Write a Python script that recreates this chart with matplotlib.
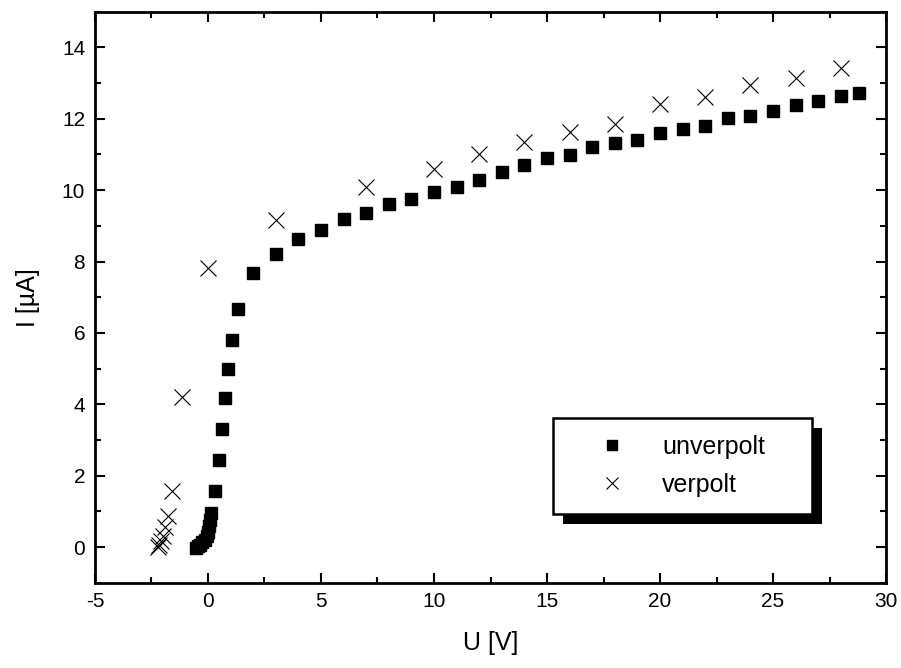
import matplotlib
matplotlib.use("Agg")
import matplotlib.pyplot as plt
from matplotlib.patches import Rectangle
from matplotlib.ticker import MultipleLocator

plt.rcParams['font.family'] = ['Liberation Sans', 'DejaVu Sans']
plt.rcParams['axes.unicode_minus'] = False

# unverpolt (squares)
u_unverpolt = [-0.55, -0.45, -0.35, -0.25, -0.15, -0.05, 0.0, 0.05, 0.1, 0.15,
               0.3, 0.49, 0.61, 0.75, 0.87, 1.06, 1.33, 2.0, 3.0, 4.0,
               5, 6, 7, 8, 9, 10, 11, 12, 13, 14, 15, 16, 17, 18, 19, 20,
               21, 22, 23, 24, 25, 26, 27, 28, 28.8]
i_unverpolt = [-0.02, 0.02, 0.07, 0.13, 0.2, 0.3, 0.42, 0.58, 0.75, 0.95,
               1.57, 2.43, 3.3, 4.18, 4.98, 5.8, 6.67, 7.69, 8.21, 8.63,
               8.87, 9.2, 9.36, 9.61, 9.76, 9.96, 10.09, 10.29, 10.5, 10.7,
               10.91, 10.99, 11.2, 11.31, 11.41, 11.6, 11.72, 11.8, 12.01,
               12.09, 12.21, 12.39, 12.5, 12.63, 12.71]

# verpolt (crosses)
u_verpolt = [-2.2, -2.15, -2.1, -2.0, -1.9, -1.75, -1.6, -1.15,
             0, 3, 7, 10, 12, 14, 16, 18, 20, 22, 24, 26, 28]
i_verpolt = [0.0, 0.07, 0.16, 0.3, 0.55, 0.86, 1.58, 4.2,
             7.82, 9.17, 10.1, 10.6, 11.0, 11.35, 11.63, 11.85,
             12.42, 12.62, 12.95, 13.15, 13.42]

fig = plt.figure(figsize=(9.01, 6.68), dpi=100)
ax = fig.add_axes([0.1054, 0.1277, 0.878, 0.8548])

ax.plot(u_unverpolt, i_unverpolt, linestyle='none', marker='s',
        markersize=8, color='black', label='unverpolt')
ax.plot(u_verpolt, i_verpolt, linestyle='none', marker='x',
        markersize=11, markeredgewidth=0.8, color='black', label='verpolt')

ax.set_xlim(-5, 30)
ax.set_ylim(-1, 15)
ax.xaxis.set_major_locator(MultipleLocator(5))
ax.xaxis.set_minor_locator(MultipleLocator(2.5))
ax.yaxis.set_major_locator(MultipleLocator(2))
ax.yaxis.set_minor_locator(MultipleLocator(1))

for s in ax.spines.values():
    s.set_linewidth(2.0)
ax.tick_params(which='both', direction='in', top=True, right=True, width=1.5)
ax.tick_params(which='major', length=7, labelsize=15, pad=7)
ax.tick_params(which='minor', length=4)

ax.set_xlabel('U [V]', fontsize=18, labelpad=14)
ax.set_ylabel('I [µA]', fontsize=18, labelpad=16)

leg = ax.legend(loc='center', bbox_to_anchor=(0.579, 0.1215, 0.328, 0.166),
                mode='expand', fontsize=18, frameon=True, fancybox=False,
                borderpad=0.7, handlelength=3.3, handletextpad=0.36,
                labelspacing=0.55, borderaxespad=0, markerscale=0.85)
leg.get_frame().set_edgecolor('black')
leg.get_frame().set_linewidth(1.8)
leg.get_frame().set_alpha(1)

# black shadow behind the legend box
fig.canvas.draw()
bb = leg.get_frame().get_window_extent().transformed(ax.transAxes.inverted())
dx = 10 / (0.878 * 901)
dy = 10 / (0.8548 * 668)
shadow = Rectangle((bb.x0 + dx, bb.y0 - dy), bb.width, bb.height,
                   transform=ax.transAxes, facecolor='black', edgecolor='none',
                   zorder=4.9, clip_on=False)
ax.add_patch(shadow)

fig.savefig('out.png', dpi=100)
